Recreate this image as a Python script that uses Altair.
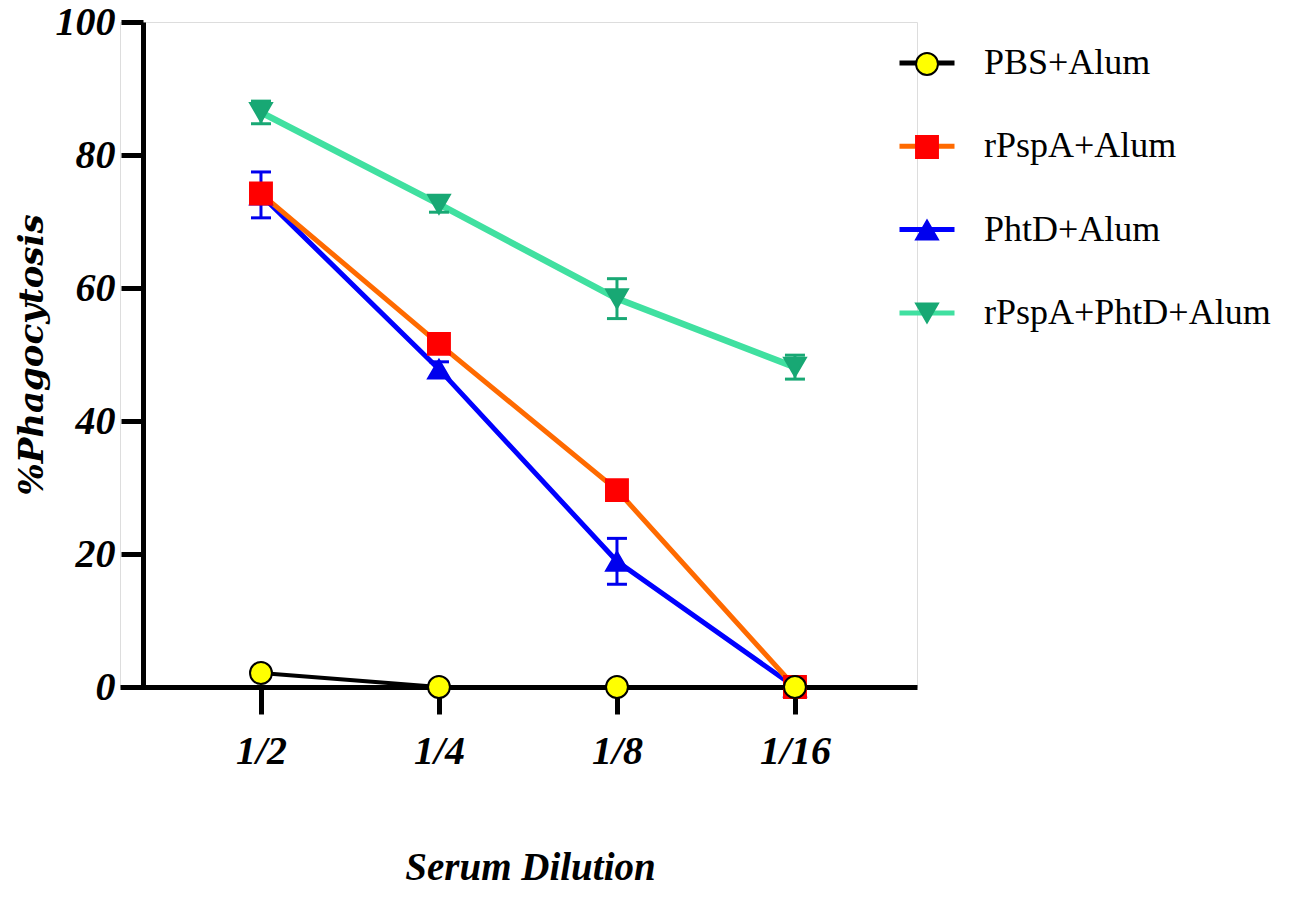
import altair as alt
import pandas as pd

dilutions = ["1/2", "1/4", "1/8", "1/16"]
groups = ["PBS+Alum", "rPspA+Alum", "PhtD+Alum", "rPspA+PhtD+Alum"]

pbs_mean = [2.1, 0.0, 0.0, 0.0]
pbs_sd = [0.0, 0.0, 0.0, 0.0]
rpspa_mean = [74.2, 51.6, 29.6, 0.0]
rpspa_sd = [1.3, 1.0, 1.0, 0.0]
phtd_mean = [74.0, 47.8, 18.9, 0.0]
phtd_sd = [3.45, 1.1, 3.45, 0.0]
combo_mean = [86.4, 72.6, 58.4, 48.1]
combo_sd = [1.7, 1.2, 3.0, 1.8]

line_colors = ["#000000", "#FF6A00", "#0000FF", "#40E0A0"]
marker_fill = ["#FFFF00", "#FF0000", "#0000EE", "#18A874"]
marker_stroke = ["#000000", "#FF0000", "#0000EE", "#18A874"]
shapes = ["circle", "square", "triangle-up", "triangle-down"]
line_widths = [4, 5, 5, 6.5]

series = {
    "PBS+Alum": (pbs_mean, pbs_sd),
    "rPspA+Alum": (rpspa_mean, rpspa_sd),
    "PhtD+Alum": (phtd_mean, phtd_sd),
    "rPspA+PhtD+Alum": (combo_mean, combo_sd),
}

rows = []
for g in reversed(groups):  # draw order: PBS last (on top)
    m, s = series[g]
    for d, mv, sv in zip(dilutions, m, s):
        rows.append({"Group": g, "Dilution": d, "Mean": mv, "SD": sv,
                     "Low": mv - sv, "High": mv + sv})
df = pd.DataFrame(rows)
err_df = df[df["SD"] > 0]

SERIF = "Liberation Serif"

x_enc = alt.X(
    "Dilution:N",
    sort=dilutions,
    scale=alt.Scale(type="point", domain=dilutions, padding=0.7388, align=0.536),
    axis=alt.Axis(
        title="Serum Dilution", labelAngle=0, labelFont=SERIF, labelFontSize=40,
        labelFontStyle="italic", labelFontWeight="bold", labelColor="black",
        labelPadding=17, tickSize=27, tickWidth=5, tickColor="black",
        domainWidth=5, domainColor="black", titleFont=SERIF, titleFontSize=39,
        titleFontStyle="italic", titleFontWeight="bold", titleColor="black",
        titleX=410, titleY=192, titleBaseline="alphabetic", grid=False,
    ),
)
x_plain = alt.X("Dilution:N", sort=dilutions)

y_axis = alt.Axis(
    values=[0, 20, 40, 60, 80, 100], title="%Phagocytosis", offset=-23,
    labelFont=SERIF, labelFontSize=40, labelFontStyle="italic",
    labelFontWeight="bold", labelColor="black", labelPadding=6,
    tickSize=22, tickWidth=5, tickColor="black", domainWidth=5,
    domainColor="black", titleFont="DejaVu Serif", titleFontSize=34,
    titleFontStyle="italic", titleFontWeight="bold", titleColor="black",
    titlePadding=6, grid=False,
)
y_scale = alt.Scale(domain=[0, 100], nice=False)

base = alt.Chart(df)

leg_a = alt.Legend(
    title=None, orient="none", legendX=777, legendY=11,
    symbolType="stroke", symbolSize=3025, symbolStrokeWidth=5,
    labelFont=SERIF, labelFontSize=36, labelColor="black",
    labelOffset=27, labelLimit=600, rowPadding=35.3, padding=0,
    symbolOpacity=1,
)

line_layers = []
for i, (g, w) in enumerate(reversed(list(zip(groups, line_widths)))):
    enc = dict(
        x=x_enc if i == 0 else x_plain,
        y=alt.Y("Mean:Q", scale=y_scale, axis=y_axis) if i == 0
        else alt.Y("Mean:Q", title="%Phagocytosis"),
        color=alt.Color("Group:N", sort=groups, scale=alt.Scale(range=line_colors),
                        legend=leg_a),
    )
    line_layers.append(
        base.transform_filter(alt.datum.Group == g).mark_line(strokeWidth=w).encode(**enc)
    )

fill_scale = alt.Scale(domain=groups, range=marker_fill)
stroke_scale = alt.Scale(domain=groups, range=marker_stroke)
shape_scale = alt.Scale(domain=groups, range=shapes)

leg_b = dict(
    title=None, orient="none", legendX=789, legendY=24, symbolSize=480,
    symbolStrokeWidth=2, labelFont=SERIF, labelFontSize=36, labelExpr="''",
    labelOffset=0, rowPadding=47, padding=0, symbolOpacity=1,
)

err_rules = alt.Chart(err_df).mark_rule(strokeWidth=3).encode(
    x=x_plain,
    y=alt.Y("Low:Q", title="%Phagocytosis"),
    y2=alt.Y2("High:Q"),
    stroke=alt.Stroke("Group:N", scale=stroke_scale, legend=alt.Legend(**leg_b)),
)
cap_lo = alt.Chart(err_df).mark_tick(thickness=3, size=20, opacity=1).encode(
    x=x_plain,
    y=alt.Y("Low:Q", title="%Phagocytosis"),
    fill=alt.Fill("Group:N", scale=fill_scale, legend=alt.Legend(**leg_b)),
)
cap_hi = alt.Chart(err_df).mark_tick(thickness=3, size=20, opacity=1).encode(
    x=x_plain,
    y=alt.Y("High:Q", title="%Phagocytosis"),
    fill=alt.Fill("Group:N", scale=fill_scale, legend=alt.Legend(**leg_b)),
)

points = base.mark_point(filled=True, size=480, opacity=1, strokeWidth=2).encode(
    x=x_plain,
    y=alt.Y("Mean:Q", title="%Phagocytosis"),
    fill=alt.Fill("Group:N", scale=fill_scale, legend=alt.Legend(**leg_b)),
    stroke=alt.Stroke("Group:N", scale=stroke_scale, legend=alt.Legend(**leg_b)),
    shape=alt.Shape("Group:N", scale=shape_scale, legend=alt.Legend(**leg_b)),
)

chart = alt.layer(*line_layers, err_rules, cap_lo, cap_hi, points).properties(
    width=797, height=665,
    autosize=alt.AutoSizeParams(type="none"),
    padding={"left": 112, "top": 14, "right": 370, "bottom": 202},
).configure_view(stroke=None).configure(background="white")

chart.save("out.html", embed_options={"renderer": "svg", "actions": False})
